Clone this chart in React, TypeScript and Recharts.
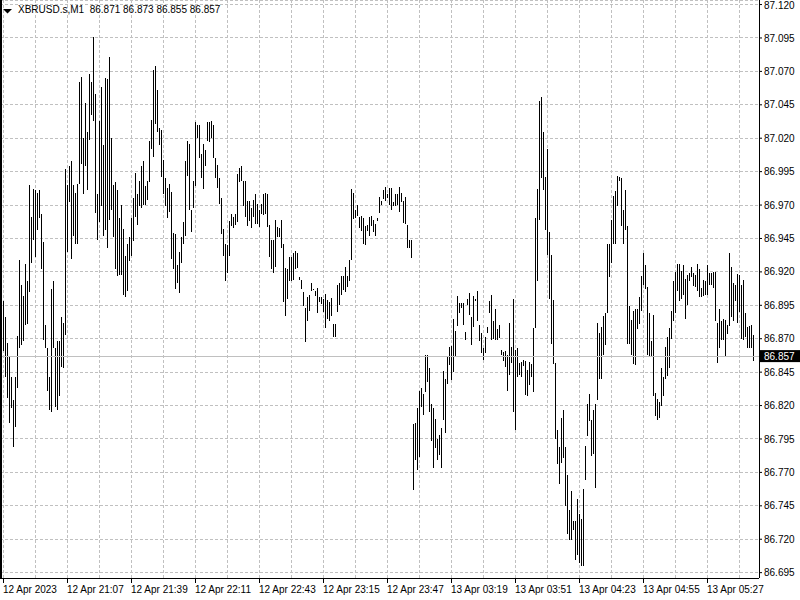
import React from "react";
import {
  BarChart,
  Bar,
  XAxis,
  YAxis,
  CartesianGrid,
  ReferenceLine,
} from "recharts";

const symbolTitle = "XBRUSD.s,M1";
const lastQuote = ["86.871", "86.873", "86.855", "86.857"];
const lastClose = 86.857;

const timeLabels = [
  "12 Apr 2023",
  "12 Apr 21:07",
  "12 Apr 21:39",
  "12 Apr 22:11",
  "12 Apr 22:43",
  "12 Apr 23:15",
  "12 Apr 23:47",
  "13 Apr 03:19",
  "13 Apr 03:51",
  "13 Apr 04:23",
  "13 Apr 04:55",
  "13 Apr 05:27",
];

const priceTicks = [
  86.695, 86.72, 86.745, 86.77, 86.795, 86.82, 86.845, 86.87, 86.895, 86.92,
  86.945, 86.97, 86.995, 87.02, 87.045, 87.07, 87.095, 87.12,
];

// bar highs, one per M1 bar
const highs = [
  86.898, 86.886, 86.867, 86.857, 86.841, 86.824, 86.841, 86.872, 86.929, 86.91,
  86.902, 86.926, 86.913, 86.985, 86.961, 86.982, 86.981, 86.979, 86.981, 86.963,
  86.942, 86.88, 86.863, 86.841, 86.907, 86.913, 86.863, 86.868, 86.868, 86.886,
  86.882, 86.997, 86.985, 86.999, 87.003, 86.985, 86.979, 86.986, 87.062, 87.066,
  87.02, 87.046, 87.025, 87.068, 87.062, 87.096, 87.053, 86.978, 87.033, 87.058,
  87.015, 87.065, 87.064, 87.081, 87.02, 86.985, 86.987, 86.981, 86.96, 86.97,
  86.952,
  86.932, 86.941, 86.946, 86.96, 86.975, 86.994, 86.978, 86.988, 86.999, 87.003,
  86.984, 86.988, 87.018, 87.034, 87.071, 87.074, 87.056, 87.028, 87.026, 87.004,
  86.99, 86.983, 86.986, 86.98, 86.949, 86.948, 86.925, 86.935, 86.946, 86.957,
  87.003, 87.018, 87.016, 86.966, 86.988, 87.032, 87.03, 87.03, 87.008, 87.016,
  87.011, 87.032, 87.032, 87.033, 87.03, 87.005, 87.0, 86.99, 86.975, 86.952,
  86.941, 86.94, 86.958, 86.963, 86.961, 86.963, 86.993, 86.998, 86.999, 86.988,
  86.988, 86.973, 86.973, 86.968,
  86.9735, 86.978, 86.971, 86.966, 86.971, 86.978, 86.979, 86.9785, 86.955, 86.944,
  86.944, 86.9585, 86.9535, 86.953, 86.9585, 86.9405, 86.923, 86.922, 86.931, 86.931,
  86.9345, 86.9355, 86.9345, 86.9165, 86.914, 86.905, 86.893, 86.9015, 86.903, 86.9115,
  86.9075, 86.906, 86.908, 86.901, 86.9015, 86.8995, 86.9035, 86.899, 86.8975, 86.9005,
  86.881, 86.881, 86.91, 86.9115, 86.917, 86.917, 86.9235, 86.917, 86.929, 86.982,
  86.979, 86.9665, 86.97, 86.961, 86.9615, 86.96, 86.9545, 86.955, 86.961, 86.962,
  86.9585, 86.956, 86.96, 86.976, 86.973, 86.9815, 86.9835, 86.978, 86.9825, 86.983,
  86.9725, 86.9785, 86.978, 86.9835, 86.979, 86.973, 86.976, 86.955, 86.9435, 86.944,
  86.8065, 86.807, 86.8185, 86.831, 86.833, 86.8285, 86.858, 86.858, 86.848, 86.8215,
  86.8185, 86.81, 86.795, 86.798, 86.8035, 86.8455, 86.8395, 86.8565, 86.864, 86.8645,
  86.8845, 86.8755, 86.902, 86.8965, 86.8965, 86.8965, 86.875, 86.8995, 86.9045, 86.8865,
  86.902, 86.8995, 86.9055, 86.8805, 86.8745, 86.863, 86.871, 86.8785, 86.8985, 86.9025,
  86.883, 86.892, 86.8775, 86.88, 86.8615, 86.86, 86.8605, 86.858, 86.8815, 86.8635,
  86.8995, 86.8615, 86.863, 86.852, 86.8525, 86.854, 86.8535, 86.8465, 86.8525, 86.851,
  86.878, 86.9605, 86.982, 87.0475, 87.051, 87.025,
  86.991, 87.012, 86.95, 86.933, 86.899, 86.852, 86.802, 86.789, 86.811, 86.817,
  86.789, 86.768, 86.742, 86.756, 86.7335, 86.7335, 86.75, 86.739, 86.735, 86.7575,
  86.79, 86.8215, 86.8285, 86.8095, 86.817, 86.8215, 86.882, 86.8745, 86.8785, 86.887,
  86.889, 86.941, 86.941, 86.959, 86.977, 86.9805, 86.9915, 86.991, 86.9905, 86.9665,
  86.9815, 86.9545, 86.8945,
  86.884, 86.891, 86.892, 86.892, 86.9015, 86.917, 86.934, 86.9255, 86.9085, 86.889,
  86.8685, 86.888, 86.8295, 86.825, 86.823, 86.848, 86.841, 86.8635, 86.871, 86.878,
  86.891, 86.9135, 86.92, 86.926, 86.926, 86.9205, 86.9255, 86.9145, 86.918, 86.9195,
  86.924, 86.9195, 86.9175, 86.926, 86.922, 86.908, 86.914, 86.913, 86.9255, 86.9195,
  86.9195, 86.92, 86.92, 86.882, 86.8925, 86.8835, 86.8845, 86.884, 86.8805, 86.934,
  86.924, 86.9115, 86.9105, 86.9185, 86.9175, 86.9105, 86.914, 86.8895, 86.879, 86.8795,
  86.8805, 86.873,
];

// bar lows, same order
const lows = [
  86.861, 86.841, 86.826, 86.807, 86.818, 86.789, 86.804, 86.833, 86.863, 86.865,
  86.868, 86.88, 86.881, 86.905, 86.927, 86.944, 86.931, 86.951, 86.96, 86.922,
  86.869, 86.863, 86.831, 86.817, 86.815, 86.863, 86.819, 86.817, 86.827, 86.849,
  86.848, 86.873, 86.935, 86.972, 86.93, 86.947, 86.941, 86.941, 86.986, 87.001,
  86.978, 86.999, 86.981, 87.019, 87.037, 87.033, 86.964, 86.944, 86.957, 86.969,
  86.947, 86.951, 86.938, 86.959, 86.966, 86.946, 86.922, 86.917, 86.918, 86.918,
  86.903,
  86.901, 86.906, 86.928, 86.932, 86.943, 86.961, 86.955, 86.969, 86.968, 86.97,
  86.97, 86.974, 86.987, 87.012, 87.006, 87.031, 87.025, 87.015, 86.991, 86.978,
  86.969, 86.96, 86.965, 86.93, 86.922, 86.907, 86.912, 86.904, 86.927, 86.941,
  86.947, 86.992, 86.966, 86.95, 86.968, 86.984, 87.02, 87.005, 86.99, 86.982,
  86.999, 87.018, 87.017, 87.02, 87.005, 86.99, 86.983, 86.971, 86.948, 86.932,
  86.913, 86.919, 86.932, 86.954, 86.953, 86.955, 86.957, 86.987, 86.988, 86.969,
  86.961, 86.954, 86.958, 86.953,
  86.961, 86.9555, 86.956, 86.9535, 86.963, 86.9625, 86.963, 86.9535, 86.931, 86.9225,
  86.919, 86.924, 86.946, 86.946, 86.938, 86.8975, 86.887, 86.9, 86.913, 86.913,
  86.914, 86.9225, 86.923, 86.914, 86.907, 86.8945, 86.8675, 86.883, 86.891, 86.906,
  86.9065, 86.902, 86.889, 86.8975, 86.896, 86.89, 86.878, 86.885, 86.883, 86.887,
  86.871, 86.8715, 86.89, 86.895, 86.903, 86.9065, 86.905, 86.9085, 86.913, 86.929,
  86.9595, 86.96, 86.9615, 86.953, 86.9505, 86.9405, 86.94, 86.9505, 86.947, 86.954,
  86.95, 86.947, 86.958, 86.964, 86.97, 86.9745, 86.973, 86.975, 86.97, 86.966,
  86.9695, 86.9695, 86.97, 86.9645, 86.972, 86.9565, 86.9555, 86.938, 86.938, 86.9305,
  86.7565, 86.779, 86.7715, 86.7815, 86.819, 86.813, 86.83, 86.838, 86.815, 86.7935,
  86.773, 86.788, 86.7795, 86.783, 86.773, 86.8095, 86.7995, 86.836, 86.8505, 86.839,
  86.845, 86.857, 86.8795, 86.8895, 86.893, 86.88, 86.869, 86.8955, 86.888, 86.8655,
  86.8785, 86.8985, 86.883, 86.868, 86.859, 86.854, 86.859, 86.874, 86.8895, 86.869,
  86.8695, 86.869, 86.869, 86.8705, 86.858, 86.8535, 86.849, 86.831, 86.843, 86.852,
  86.815, 86.802, 86.8415, 86.843, 86.8415, 86.8495, 86.828, 86.827, 86.8355, 86.8415,
  86.8305, 86.878, 86.9135, 86.9585, 86.99, 86.981,
  86.951, 86.933, 86.9, 86.866, 86.851, 86.795, 86.7765, 86.7615, 86.777, 86.7805,
  86.7445, 86.724, 86.7195, 86.7195, 86.727, 86.7045, 86.708, 86.702, 86.7, 86.7,
  86.7645, 86.7975, 86.8085, 86.7825, 86.7835, 86.7585, 86.8245, 86.84, 86.8395, 86.8575,
  86.8655, 86.889, 86.9165, 86.9265, 86.941, 86.941, 86.9695, 86.988, 86.9545, 86.941,
  86.9515, 86.866, 86.866,
  86.858, 86.851, 86.8505, 86.8775, 86.881, 86.8905, 86.91, 86.907, 86.858, 86.857,
  86.857, 86.827, 86.812, 86.8095, 86.811, 86.82, 86.8275, 86.84, 86.842, 86.848,
  86.8695, 86.883, 86.8895, 86.9055, 86.898, 86.9, 86.9025, 86.8845, 86.895, 86.913,
  86.9165, 86.9095, 86.909, 86.9055, 86.901, 86.901, 86.902, 86.903, 86.903, 86.91,
  86.9105, 86.908, 86.883, 86.852, 86.863, 86.869, 86.869, 86.857, 86.8735, 86.8795,
  86.8865, 86.883, 86.898, 86.8815, 86.89, 86.87, 86.869, 86.871, 86.863, 86.863,
  86.863, 86.8535,
];

const bars = highs.map((h, i) => ({ i, range: [lows[i], h] }));

const FONT = '"Liberation Sans", Arial, sans-serif';
const BARS_PER_LABEL = 32;

const HighLowBar = (props: any) => {
  const { x, y, width, height } = props;
  if (x == null || y == null) return <g />;
  const h = Math.abs(height || 0);
  return (
    <rect
      x={Math.floor(x + width / 2)}
      y={Math.min(y, y + (height || 0))}
      width={1}
      height={Math.max(h, 1)}
      fill="#000"
      shapeRendering="crispEdges"
    />
  );
};

const TimeTick = (props: any) => {
  const { x, y, payload } = props;
  const idx = payload.value;
  if (idx % BARS_PER_LABEL !== 0) return <g />;
  const label = timeLabels[idx / BARS_PER_LABEL];
  return (
    <g>
      <line x1={x + 0.5} x2={x + 0.5} y1={y} y2={y + 5} stroke="#000" />
      <text x={x} y={y + 15} fontSize={10} fontFamily={FONT} fill="#000">
        {label}
      </text>
    </g>
  );
};

const PriceTag = (props: any) => {
  const vb = props.viewBox || {};
  const left = (vb.x || 0) + (vb.width || 0) + 1;
  const cy = vb.y || 0;
  return (
    <g>
      <rect x={left} y={cy - 6} width={40} height={12} fill="#000" />
      <text
        x={left + 4}
        y={cy + 4}
        fontSize={10}
        fontFamily={FONT}
        fill="#fff"
      >
        {lastClose.toFixed(3)}
      </text>
    </g>
  );
};

export default function App() {
  return (
    <div
      style={{
        position: "absolute",
        left: 0,
        top: 0,
        width: 800,
        height: 600,
        background: "#fff",
        overflow: "hidden",
      }}
    >
      <BarChart
        width={800}
        height={600}
        data={bars}
        margin={{ top: 0, right: 0, bottom: 0, left: 0 }}
        barSize={1}
      >
        <CartesianGrid
          stroke="#c0c0c0"
          strokeDasharray="3 2"
          shapeRendering="crispEdges"
        />
        <XAxis
          dataKey="i"
          type="category"
          interval={15}
          padding={{ left: 2, right: 5 }}
          height={22}
          tickSize={0}
          tickMargin={0}
          tickLine={false}
          axisLine={{ stroke: "#000", shapeRendering: "crispEdges" }}
          tick={<TimeTick />}
        />
        <YAxis
          orientation="right"
          width={41}
          type="number"
          domain={[86.691, 87.1234]}
          ticks={priceTicks}
          allowDataOverflow
          tickSize={3}
          tickMargin={2}
          tickFormatter={(v: number) => v.toFixed(3)}
          tick={{ fontSize: 10, fill: "#000", fontFamily: FONT }}
          tickLine={{ stroke: "#000" }}
          axisLine={{ stroke: "#000", shapeRendering: "crispEdges" }}
        />
        <ReferenceLine
          y={lastClose}
          stroke="#c0c0c0"
          shapeRendering="crispEdges"
          label={<PriceTag />}
        />
        <Bar
          dataKey="range"
          isAnimationActive={false}
          shape={<HighLowBar />}
        />
      </BarChart>
      <div
        style={{
          position: "absolute",
          left: 0,
          top: 0,
          width: 2,
          height: 578,
          background: "#000",
        }}
      />
      <svg
        width={12}
        height={8}
        style={{ position: "absolute", left: 2, top: 7 }}
      >
        <polygon points="1,2 10,2 5.5,6.5" fill="#000" />
      </svg>
      <div
        style={{
          position: "absolute",
          left: 18,
          top: 4,
          fontFamily: FONT,
          fontSize: 10,
          color: "#000",
          whiteSpace: "pre",
          lineHeight: "12px",
        }}
      >
        {symbolTitle + "  " + lastQuote.join(" ")}
      </div>
    </div>
  );
}
